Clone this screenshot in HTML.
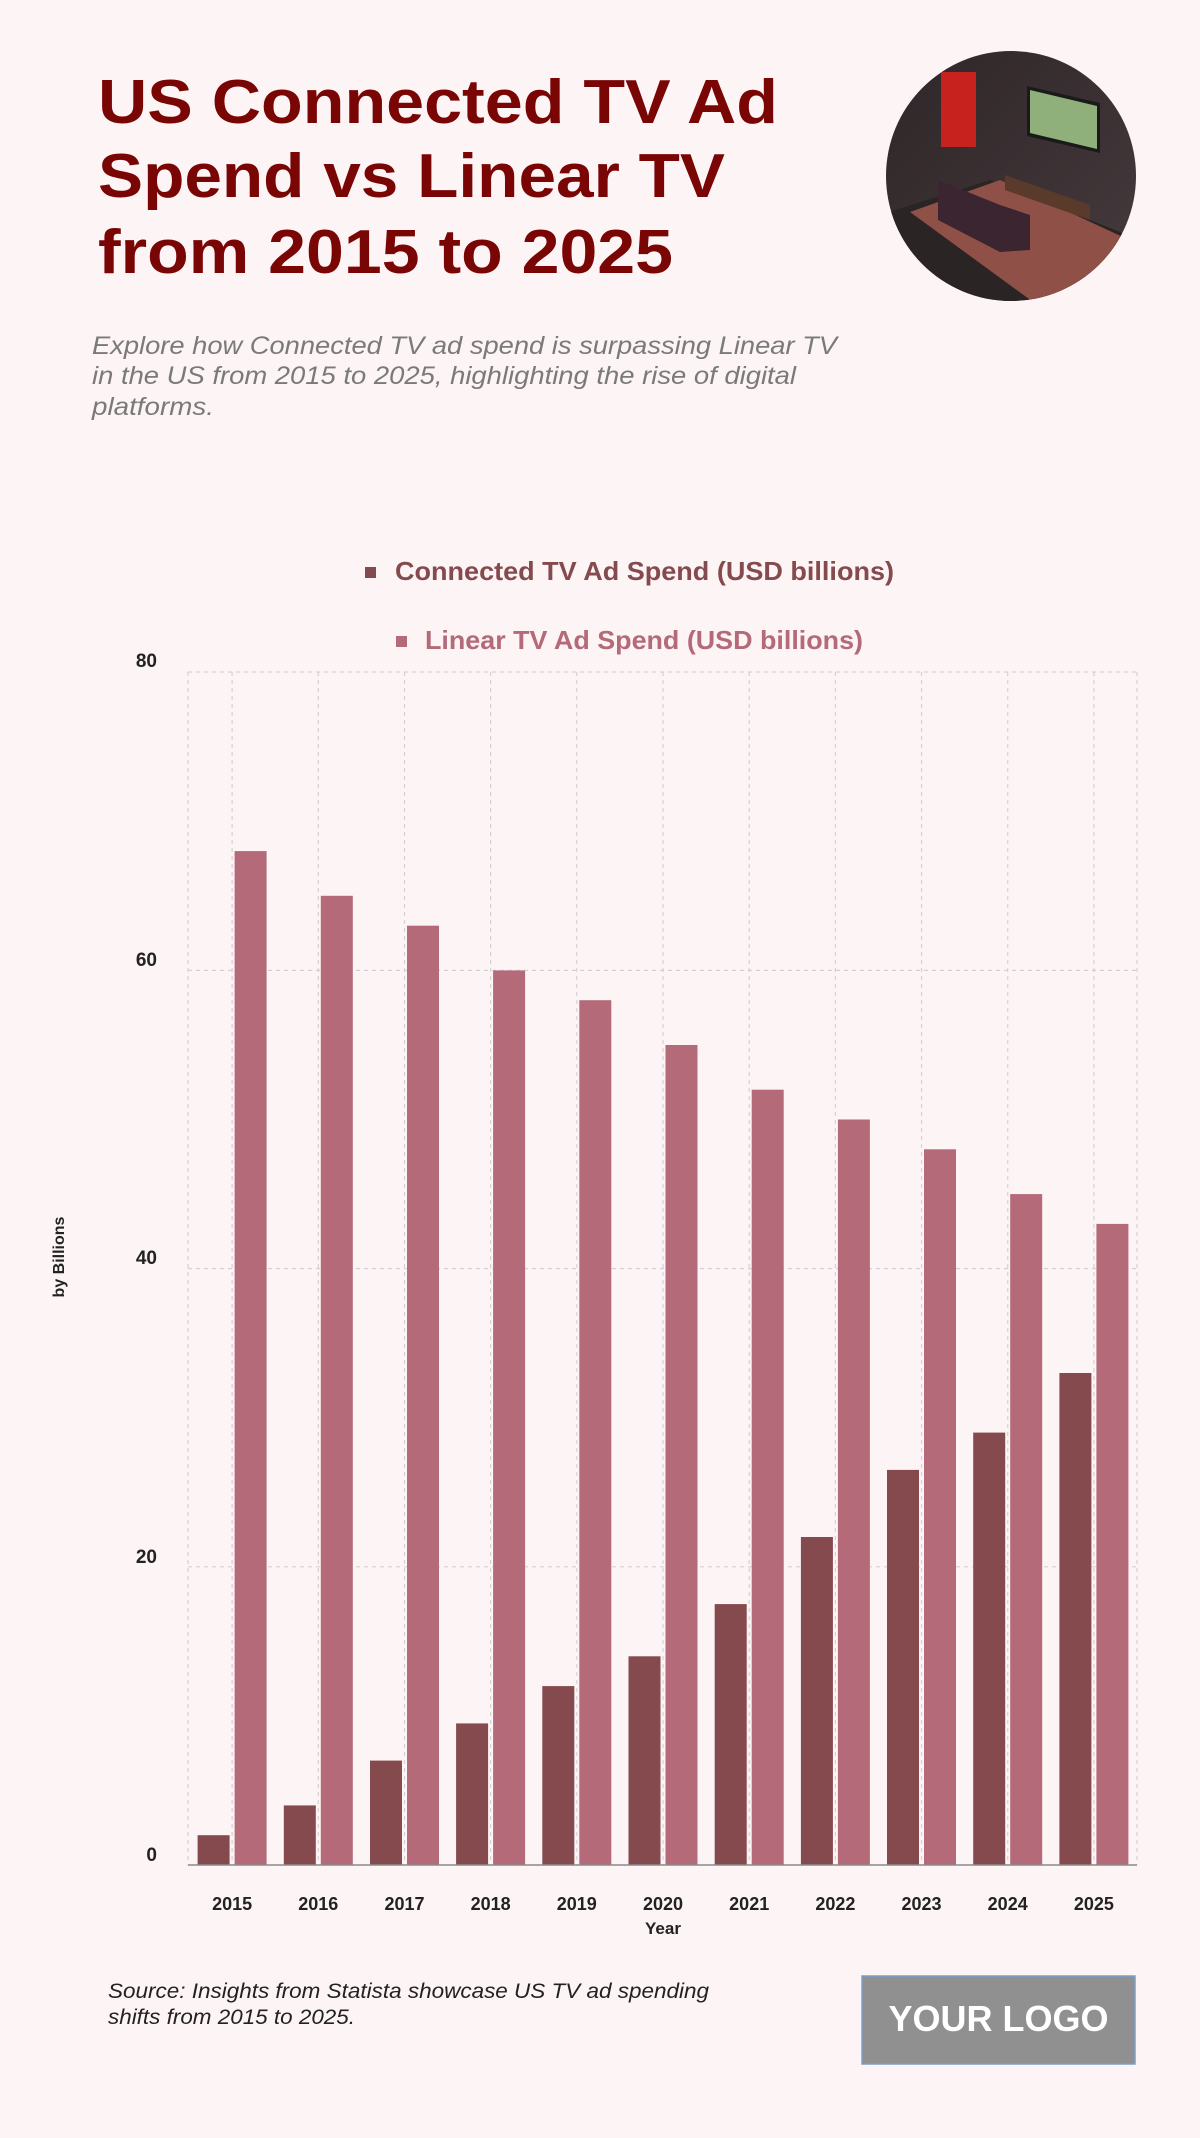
<!DOCTYPE html>
<html><head><meta charset="utf-8"><style>
html,body{margin:0;padding:0;background:#fdf4f5;}
body{width:1200px;height:2133px;overflow:hidden;font-family:"Liberation Sans",sans-serif;}
</style></head><body>
<svg width="1200" height="2133" viewBox="0 0 1200 2133" xmlns="http://www.w3.org/2000/svg" font-family="Liberation Sans, sans-serif">
<rect width="1200" height="2133" fill="#fdf4f5"/>
<g fill="#7a0505" font-weight="bold" font-size="62">
<text x="98" y="123" textLength="680" lengthAdjust="spacingAndGlyphs">US Connected TV Ad</text>
<text x="98" y="197" textLength="627" lengthAdjust="spacingAndGlyphs">Spend vs Linear TV</text>
<text x="98" y="273" textLength="575" lengthAdjust="spacingAndGlyphs">from 2015 to 2025</text>
</g>
<g fill="#7a7a7a" font-style="italic" font-size="25">
<text x="92" y="354" textLength="745" lengthAdjust="spacingAndGlyphs">Explore how Connected TV ad spend is surpassing Linear TV</text>
<text x="92" y="384" textLength="704" lengthAdjust="spacingAndGlyphs">in the US from 2015 to 2025, highlighting the rise of digital</text>
<text x="92" y="415" textLength="122" lengthAdjust="spacingAndGlyphs">platforms.</text>
</g>
<defs><clipPath id="c"><circle cx="1011" cy="176" r="125"/></clipPath>
<linearGradient id="w" x1="0" y1="0" x2="1" y2="1"><stop offset="0" stop-color="#2e2628"/><stop offset="1" stop-color="#463a3d"/></linearGradient></defs>
<g clip-path="url(#c)">
<rect x="880" y="45" width="260" height="262" fill="url(#w)"/>
<polygon points="880,215 990,180 1140,240 1140,307 880,307" fill="#2a2425"/>
<polygon points="910,212 1000,180 1140,245 1140,300 1040,307" fill="#8f5048"/>
<rect x="941" y="72" width="35" height="75" fill="#c8221e" transform="skew(0,-5)"/>
<polygon points="1027,86 1100,103 1100,153 1027,136" fill="#1a1a1a"/>
<polygon points="1030,90 1097,106 1097,149 1030,133" fill="#8fb07a"/>
<polygon points="1005,175 1090,205 1090,220 1005,190" fill="#5a3a2a"/>
<polygon points="938,180 1000,205 1030,215 1030,250 1000,252 938,220" fill="#3a2530"/>
</g>
<!-- legend -->
<rect x="365" y="567" width="11" height="11" fill="#844a4d"/>
<text x="395" y="580" font-size="26" font-weight="bold" fill="#844a4d" textLength="499" lengthAdjust="spacingAndGlyphs">Connected TV Ad Spend (USD billions)</text>
<rect x="396" y="636" width="11" height="11" fill="#b46a78"/>
<text x="425" y="649" font-size="26" font-weight="bold" fill="#b46a78" textLength="438" lengthAdjust="spacingAndGlyphs">Linear TV Ad Spend (USD billions)</text>
<!-- grid -->
<g stroke="#d8d0d2" stroke-width="1.2" stroke-dasharray="4,4" fill="none">
<line x1="188" y1="672" x2="1137" y2="672"/>
<line x1="188" y1="970.4" x2="1137" y2="970.4"/>
<line x1="188" y1="1268.6" x2="1137" y2="1268.6"/>
<line x1="188" y1="1566.8" x2="1137" y2="1566.8"/>
<line x1="188" y1="672" x2="188" y2="1865"/>
<line x1="1137" y1="672" x2="1137" y2="1865"/>
<line x1="232.1" y1="672" x2="232.1" y2="1865"/>
<line x1="318.3" y1="672" x2="318.3" y2="1865"/>
<line x1="404.5" y1="672" x2="404.5" y2="1865"/>
<line x1="490.6" y1="672" x2="490.6" y2="1865"/>
<line x1="576.8" y1="672" x2="576.8" y2="1865"/>
<line x1="663" y1="672" x2="663" y2="1865"/>
<line x1="749.2" y1="672" x2="749.2" y2="1865"/>
<line x1="835.4" y1="672" x2="835.4" y2="1865"/>
<line x1="921.5" y1="672" x2="921.5" y2="1865"/>
<line x1="1007.7" y1="672" x2="1007.7" y2="1865"/>
<line x1="1093.9" y1="672" x2="1093.9" y2="1865"/>
</g>
<g fill="#844a4d">
<rect x="197.6" y="1835.2" width="32" height="29.8"/>
<rect x="283.8" y="1805.4" width="32" height="59.6"/>
<rect x="370" y="1760.6" width="32" height="104.4"/>
<rect x="456.1" y="1723.4" width="32" height="141.6"/>
<rect x="542.3" y="1686.1" width="32" height="178.9"/>
<rect x="628.5" y="1656.3" width="32" height="208.7"/>
<rect x="714.7" y="1604.1" width="32" height="260.9"/>
<rect x="800.9" y="1537" width="32" height="328"/>
<rect x="887" y="1469.9" width="32" height="395.1"/>
<rect x="973.2" y="1432.6" width="32" height="432.4"/>
<rect x="1059.4" y="1373" width="32" height="492"/>
</g>
<g fill="#b46a78">
<rect x="234.6" y="851.1" width="32" height="1013.9"/>
<rect x="320.8" y="895.8" width="32" height="969.2"/>
<rect x="407" y="925.7" width="32" height="939.3"/>
<rect x="493.1" y="970.4" width="32" height="894.6"/>
<rect x="579.3" y="1000.2" width="32" height="864.8"/>
<rect x="665.5" y="1045" width="32" height="820"/>
<rect x="751.7" y="1089.7" width="32" height="775.3"/>
<rect x="837.9" y="1119.5" width="32" height="745.5"/>
<rect x="924" y="1149.3" width="32" height="715.7"/>
<rect x="1010.2" y="1194.1" width="32" height="670.9"/>
<rect x="1096.4" y="1223.9" width="32" height="641.1"/>
</g>
<line x1="188" y1="1865" x2="1137" y2="1865" stroke="#8a8a8a" stroke-width="1.5"/>
<g font-size="19" font-weight="bold" fill="#222" text-anchor="end">
<text x="157" y="667">80</text>
<text x="157" y="966">60</text>
<text x="157" y="1264">40</text>
<text x="157" y="1563">20</text>
<text x="157" y="1861">0</text>
</g>
<text transform="translate(64,1257) rotate(-90)" font-size="16" font-weight="bold" fill="#222" text-anchor="middle">by Billions</text>
<g font-size="18" font-weight="bold" fill="#222" text-anchor="middle">
<text x="232.1" y="1910">2015</text><text x="318.3" y="1910">2016</text><text x="404.5" y="1910">2017</text>
<text x="490.6" y="1910">2018</text><text x="576.8" y="1910">2019</text><text x="663" y="1910">2020</text>
<text x="749.2" y="1910">2021</text><text x="835.4" y="1910">2022</text><text x="921.5" y="1910">2023</text>
<text x="1007.7" y="1910">2024</text><text x="1093.9" y="1910">2025</text>
<text x="663" y="1934" font-size="17">Year</text>
</g>
<g font-size="21" font-style="italic" fill="#222">
<text x="108" y="1998" textLength="601" lengthAdjust="spacingAndGlyphs">Source: Insights from Statista showcase US TV ad spending</text>
<text x="108" y="2024" textLength="247" lengthAdjust="spacingAndGlyphs">shifts from 2015 to 2025.</text>
</g>
<rect x="862" y="1976" width="273" height="88" fill="#909090" stroke="#7ba0c8" stroke-width="1.5"/>
<text x="998.5" y="2031" font-size="36" font-weight="bold" fill="#fff" text-anchor="middle">YOUR LOGO</text>
</svg>
</body></html>
